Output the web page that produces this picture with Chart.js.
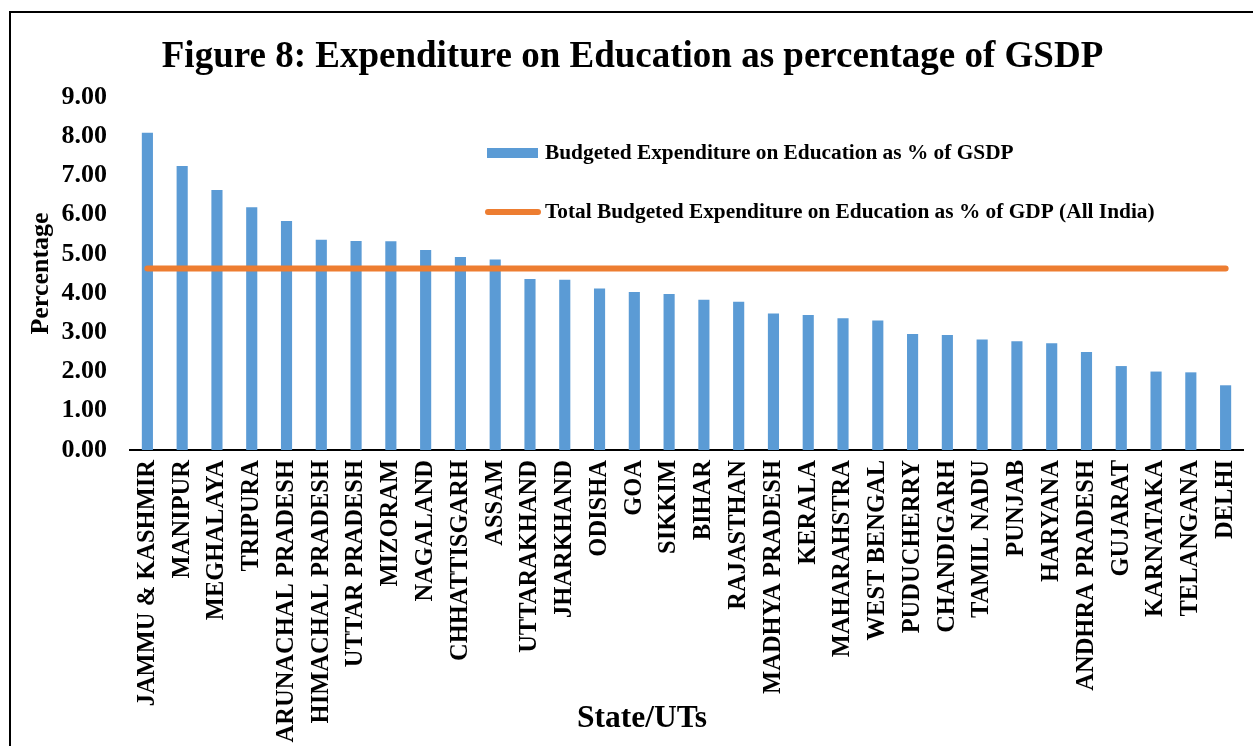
<!DOCTYPE html>
<html>
<head>
<meta charset="utf-8">
<script src="https://cdn.jsdelivr.net/npm/chart.js@4/dist/chart.umd.min.js"></script>
<style>
  html, body { margin: 0; padding: 0; background: #ffffff; }
  #wrap { width: 1253px; height: 746px; position: relative; }
</style>
</head>
<body>
<div id="wrap"><canvas id="c" width="1253" height="746"></canvas></div>
<script>
const states = [
  "JAMMU & KASHMIR", "MANIPUR", "MEGHALAYA", "TRIPURA", "ARUNACHAL PRADESH",
  "HIMACHAL PRADESH", "UTTAR PRADESH", "MIZORAM", "NAGALAND", "CHHATTISGARH",
  "ASSAM", "UTTARAKHAND", "JHARKHAND", "ODISHA", "GOA", "SIKKIM", "BIHAR",
  "RAJASTHAN", "MADHYA PRADESH", "KERALA", "MAHARAHSTRA", "WEST BENGAL",
  "PUDUCHERRY", "CHANDIGARH", "TAMIL NADU", "PUNJAB", "HARYANA",
  "ANDHRA PRADESH", "GUJARAT", "KARNATAKA", "TELANGANA", "DELHI"
];
const stateEduPctGSDP = [
  8.09, 7.24, 6.63, 6.19, 5.84,
  5.36, 5.33, 5.32, 5.10, 4.92,
  4.86, 4.36, 4.34, 4.12, 4.03, 3.98, 3.83,
  3.78, 3.48, 3.44, 3.36, 3.30,
  2.96, 2.93, 2.82, 2.77, 2.72,
  2.50, 2.14, 2.00, 1.98, 1.65
];
const allIndiaPctGDP = [
  4.63, 4.63, 4.63, 4.63, 4.63, 4.63, 4.63, 4.63,
  4.63, 4.63, 4.63, 4.63, 4.63, 4.63, 4.63, 4.63,
  4.63, 4.63, 4.63, 4.63, 4.63, 4.63, 4.63, 4.63,
  4.63, 4.63, 4.63, 4.63, 4.63, 4.63, 4.63, 4.63
];
const yTicks = [0, 1, 2, 3, 4, 5, 6, 7, 8, 9];
const xAxisTitle = 'State/UTs';

const FONT = "'Liberation Serif', 'Times New Roman', serif";
const BLUE = '#5B9BD5';
const ORANGE = '#ED7D31';

const framePlugin = {
  id: 'frame',
  beforeDraw(chart) {
    const ctx = chart.ctx;
    ctx.save();
    ctx.fillStyle = '#ffffff';
    ctx.fillRect(0, 0, chart.width, chart.height);
    ctx.strokeStyle = '#000000';
    ctx.lineWidth = 2;
    ctx.beginPath();
    ctx.moveTo(10, chart.height + 5);
    ctx.lineTo(10, 12);
    ctx.lineTo(chart.width + 5, 12);
    ctx.stroke();
    ctx.restore();
  }
};

const legendPlugin = {
  id: 'insideLegend',
  afterDraw(chart) {
    const ctx = chart.ctx;
    const a = chart.chartArea;
    const ds = chart.data.datasets;
    const x0 = a.left + 357;
    const rows = [a.top + 56, a.top + 115];
    ctx.save();
    ctx.font = "bold 21.35px " + FONT;
    ctx.textBaseline = 'middle';
    ctx.textAlign = 'left';
    ctx.fillStyle = ds[0].backgroundColor;
    ctx.fillRect(x0, rows[0] - 5, 51, 10);
    ctx.fillStyle = '#000000';
    ctx.fillText(ds[0].label, x0 + 58, rows[0]);
    ctx.strokeStyle = ds[1].borderColor;
    ctx.lineWidth = 6;
    ctx.lineCap = 'round';
    ctx.beginPath();
    ctx.moveTo(x0 + 1, rows[1]);
    ctx.lineTo(x0 + 51, rows[1]);
    ctx.stroke();
    ctx.fillStyle = '#000000';
    ctx.fillText(ds[1].label, x0 + 58, rows[1]);

    // x-axis title (centred under the page like the original, not the plot)
    ctx.font = "bold 31.5px " + FONT;
    ctx.textAlign = 'center';
    ctx.fillText(xAxisTitle, 642, 719);
    ctx.restore();
  }
};

new Chart(document.getElementById('c'), {
  type: 'bar',
  data: {
    labels: states,
    datasets: [
      {
        type: 'bar',
        label: 'Budgeted Expenditure on Education as % of GSDP',
        data: stateEduPctGSDP,
        backgroundColor: BLUE,
        borderWidth: 0,
        barPercentage: 0.32,
        categoryPercentage: 1.0,
        order: 1
      },
      {
        type: 'line',
        label: 'Total Budgeted Expenditure on Education as % of GDP (All India)',
        data: allIndiaPctGDP,
        borderColor: ORANGE,
        backgroundColor: ORANGE,
        borderWidth: 6,
        borderCapStyle: 'round',
        pointRadius: 0,
        pointHoverRadius: 0,
        fill: false,
        order: 0
      }
    ]
  },
  options: {
    responsive: false,
    animation: false,
    devicePixelRatio: 1,
    layout: { padding: { top: 0, left: 22, right: 10, bottom: 0 } },
    plugins: {
      legend: { display: false },
      tooltip: { enabled: false },
      title: {
        display: true,
        text: 'Figure 8: Expenditure on Education as percentage of GSDP',
        color: '#000000',
        font: { family: FONT, size: 37, weight: 'bold', lineHeight: 1.2 },
        padding: { top: 35, bottom: 17.6 }
      }
    },
    scales: {
      x: {
        grid: { display: false, drawTicks: false },
        border: { display: true, color: '#000000', width: 2 },
        ticks: {
          autoSkip: false,
          minRotation: 90,
          maxRotation: 90,
          padding: 10,
          color: '#000000',
          font: { family: FONT, size: 24.5, weight: 'bold' }
        },
        title: { display: false, text: xAxisTitle },
        afterFit(scale) {
          scale.height = 296;
          scale.paddingLeft = 0;
          scale.paddingRight = 0;
        }
      },
      y: {
        min: 0,
        max: 9,
        afterBuildTicks(scale) { scale.ticks = yTicks.map(v => ({ value: v })); },
        grid: { display: false, drawTicks: false },
        border: { display: false },
        ticks: {
          padding: 23,
          color: '#000000',
          font: { family: FONT, size: 26, weight: 'bold' },
          callback: (v) => Number(v).toFixed(2)
        },
        title: {
          display: true,
          text: 'Percentage',
          color: '#000000',
          font: { family: FONT, size: 26, weight: 'bold', lineHeight: 1.2 },
          padding: { top: 3.4, bottom: 0 }
        },
        afterFit(scale) { scale.width = 108; }
      }
    }
  },
  plugins: [framePlugin, legendPlugin]
});
</script>
</body>
</html>
